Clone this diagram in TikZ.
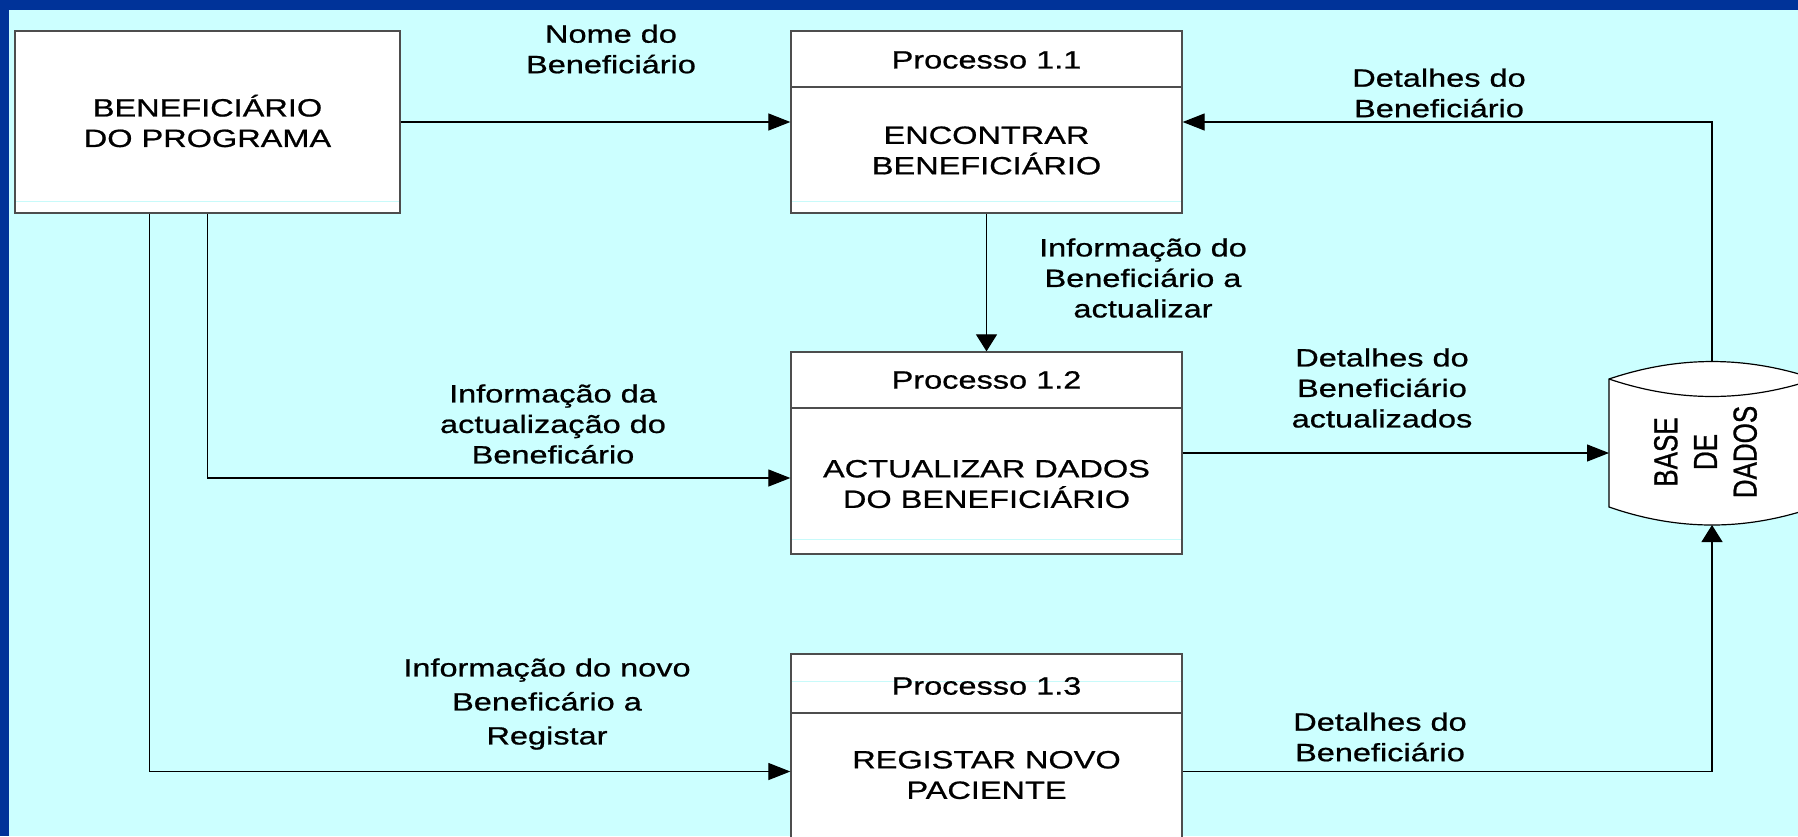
\documentclass[tikz,border=0pt]{standalone}
\usepackage{fontspec}
\setmainfont{Liberation Sans}[FakeStretch=1.3,FakeBold=0.8]
\newfontfamily\plainfont{Liberation Sans}[FakeBold=0.8]
\usetikzlibrary{arrows.meta}
\definecolor{bgcyan}{RGB}{204,255,255}
\definecolor{frameblue}{RGB}{0,51,153}
\definecolor{boxline}{RGB}{77,77,77}
\definecolor{faint}{RGB}{200,250,250}
\begin{document}
\begin{tikzpicture}[x=1pt,y=-1pt,
  txt/.style={font=\fontsize{25}{30.5}\selectfont, align=center, inner sep=0pt},
  box/.style={draw=boxline, line width=1.3pt, fill=white, inner sep=0pt},
  conn/.style={line width=1.2pt, draw=black},
  harr/.style={conn, -{Triangle[length=22pt,width=17pt]}},
  varr/.style={conn, -{Triangle[length=17pt,width=21pt]}},
  faintline/.style={draw=faint, line width=1pt},
  divider/.style={draw=boxline, line width=1.3pt}]
\clip (0,0) rectangle (1798,836);
\fill[frameblue] (0,0) rectangle (1798,836);
\fill[bgcyan] (9,10) rectangle (1798,836);

% external entity
\node[box, minimum width=385pt, minimum height=182pt] (main) at (207.5,122) {};
\draw[faintline] (16,201) -- (399,201);
\node[txt] (maintxt) at (207.5,121) {BENEFICIÁRIO\\DO PROGRAMA};

% process 1.1
\node[box, minimum width=391pt, minimum height=182pt] (p11) at (986.5,122) {};
\draw[divider] (p11.west |- 0,87) -- (p11.east |- 0,87);
\draw[faintline] (792,201) -- (1181,201);
\node[txt] (t11a) at (986.5,60) {Processo 1.1};
\node[txt] (t11b) at (986.5,150.5) {ENCONTRAR\\BENEFICIÁRIO};

% process 1.2
\node[box, minimum width=391pt, minimum height=202pt] (p12) at (986.5,453) {};
\draw[divider] (p12.west |- 0,408) -- (p12.east |- 0,408);
\draw[faintline] (792,539) -- (1181,539);
\node[txt] (t12a) at (986.5,380) {Processo 1.2};
\node[txt] (t12b) at (986.5,484) {ACTUALIZAR DADOS\\DO BENEFICIÁRIO};

% process 1.3
\node[box, minimum width=391pt, minimum height=235pt] (p13) at (986.5,771.5) {};
\draw[divider] (p13.west |- 0,713) -- (p13.east |- 0,713);
\draw[faintline] (792,681) -- (1181,681);
\node[txt] (t13a) at (986.5,686) {Processo 1.3};
\node[txt] (t13b) at (986.5,775) {REGISTAR NOVO\\PACIENTE};

% data store
\filldraw[fill=white, draw=black, line width=1.2pt]
  (1609,379) .. controls (1678,355.7) and (1746,355.7) .. (1815,379)
  -- (1815,507) .. controls (1746,531) and (1678,531) .. (1609,507) -- cycle;
\draw[line width=1.2pt] (1609,379) .. controls (1678,402.3) and (1746,402.3) .. (1815,379);
\node[inner sep=0pt] (db) at (1709,452)
  {\scalebox{1.28}[1]{\rotatebox{90}{\plainfont\fontsize{26}{31}\selectfont\begin{tabular}{@{}c@{}}BASE\\DE\\DADOS\end{tabular}}}};
\coordinate (dbT) at (1712,362);
\coordinate (dbB) at (1712,525);
\coordinate (dbL) at (1609,453);

% connectors
\draw[harr] (main.east) -- (p11.west);
\draw[harr] (dbT) |- (p11.east);
\draw[varr] (p11.south) -- (p12.north);
\draw[harr] (main.south) |- ([yshift=-25pt]p12.west);
\draw[harr] ([xshift=135pt]main.south west) |- (p13.west);
\draw[harr] (p12.east) -- (dbL);
\draw[varr] (p13.east) -| (dbB);

% labels
\node[txt] (l1) at (611,49) {Nome do\\Beneficiário};
\node[txt] (l2) at (1439,93) {Detalhes do\\Beneficiário};
\node[txt] (l3) at (1143,278) {Informação do\\Beneficiário a\\actualizar};
\node[txt] (l4) at (553,424) {Informação da\\actualização do\\Beneficário};
\node[txt, font=\fontsize{25}{34}\selectfont] (l5) at (547,704) {Informação do novo\\Beneficário a\\Registar};
\node[txt] (l6) at (1382,388) {Detalhes do\\Beneficiário\\actualizados};
\node[txt] (l7) at (1380,737) {Detalhes do\\Beneficiário};
\end{tikzpicture}
\end{document}
